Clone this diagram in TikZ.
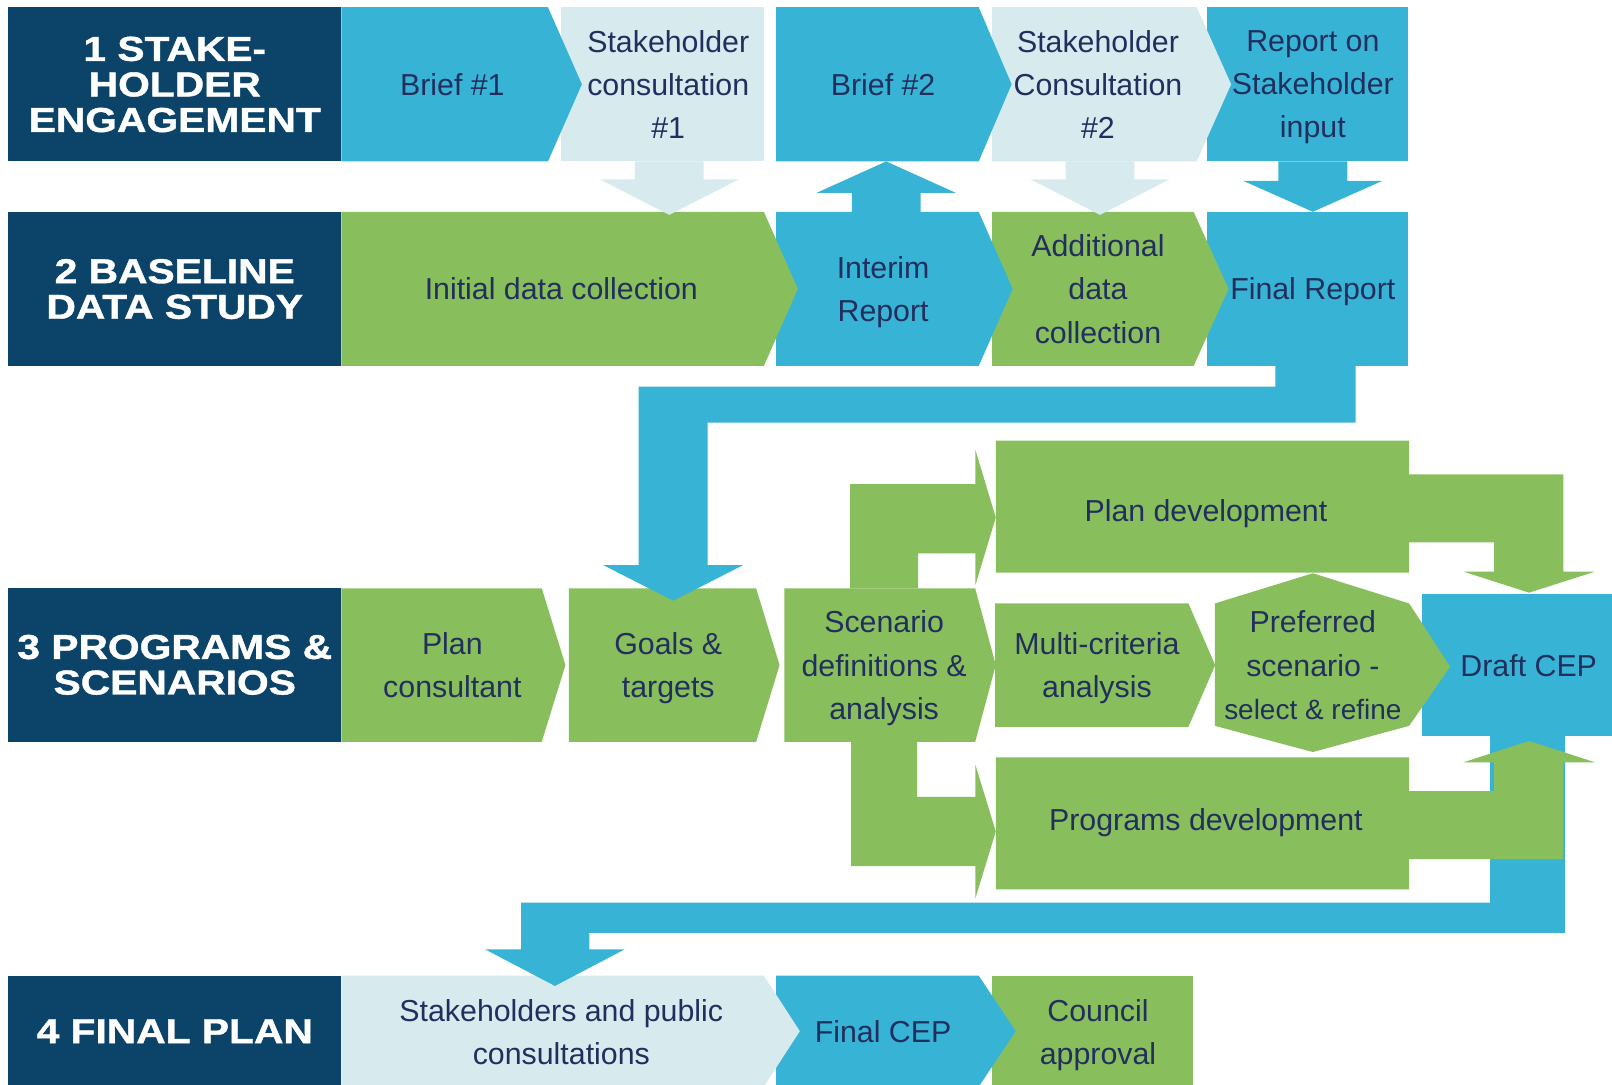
\documentclass[tikz,border=0pt]{standalone}
\usepackage{fontspec}
\setmainfont{Liberation Sans}
\newfontfamily\hdrfont{Liberation Sans}[FakeStretch=1.18,FakeBold=1.2]
\usepackage{xcolor}
\usepackage{tikz}
\definecolor{cepNavy}{HTML}{0B4468}
\definecolor{cepBlue}{HTML}{37B4D5}
\definecolor{cepPale}{HTML}{D7EAEE}
\definecolor{cepGreen}{HTML}{88BF5C}
\definecolor{cepInk}{HTML}{222F5E}

% fill, left, right, tip x, top, bottom
\newcommand{\cepchevron}[6]{%
  \fill[#1] (#2,#5) -- (#3,#5) -- (#4,{(#5+#6)/2}) -- (#3,#6) -- (#2,#6) -- cycle;}
% fill, centre x, shaft start, head base, tip
\newcommand{\cepdown}[5]{%
  \fill[#1] ({#2-33.5},#3) -- ({#2+33.5},#3) -- ({#2+33.5},#4) -- ({#2+67.5},#4)
    -- (#2,#5) -- ({#2-67.5},#4) -- ({#2-33.5},#4) -- cycle;}

\begin{document}
\begin{tikzpicture}[x=0.5pt,y=-0.5pt,
  lbl/.style={text=cepInk,align=center,inner sep=0pt,text depth=0pt,
    font=\fontsize{14.75}{21}\selectfont},
  hdr/.style={text=white,align=center,inner sep=0pt,text depth=0pt,
    font=\hdrfont\bfseries\fontsize{16.8}{17.3}\selectfont}]
  \useasboundingbox (0,0) rectangle (1568,1055);

  % row headers
  \foreach \ytop/\ybot in {7/157,206/356,572.3/721.5,949/1060}
    \fill[cepNavy] (8,\ytop) rectangle (332,\ybot);

  % row 1
  \fill[cepBlue] (1174,7) rectangle (1370,157);
  \cepchevron{cepPale}{965}{1164}{1197.5}{7}{157}
  \cepchevron{cepBlue}{755}{952}{984}{7}{157}
  \fill[cepPale] (546,7) rectangle (743,157);
  \cepchevron{cepBlue}{332}{533}{566}{7}{157}

  % row 2
  \fill[cepBlue] (1174,206) rectangle (1370,356);
  \cepchevron{cepGreen}{965}{1161}{1195}{206}{356}
  \cepchevron{cepBlue}{755}{952}{985}{206}{356}
  \cepchevron{cepGreen}{332}{743}{776}{206}{356}

  % row 3
  \fill[cepBlue] (1383,578) rectangle (1575,715.6);
  \fill[cepGreen] (1181.6,587) -- (1277,557.6) -- (1370.7,587) -- (1410.5,648.5)
    -- (1370.7,706) -- (1277,731.5) -- (1181.6,706) -- cycle;
  \cepchevron{cepGreen}{968}{1156}{1182}{587}{707}
  \cepchevron{cepGreen}{763}{948.6}{968.6}{572.3}{721.5}
  \cepchevron{cepGreen}{553.4}{735.5}{758.3}{572.3}{721.5}
  \cepchevron{cepGreen}{332}{527}{550}{572.3}{721.5}

  % row 4
  \fill[cepGreen] (965,949) rectangle (1160,1060);
  \cepchevron{cepBlue}{755}{952}{988}{949}{1057}
  \cepchevron{cepPale}{332}{743}{778}{949}{1057}

  % blue return arrows
  \fill[cepBlue] (1240.6,355) -- (1318.5,355) -- (1318.5,411) -- (688.3,411)
    -- (688.3,549.6) -- (723,549.6) -- (654.8,584.3) -- (586.6,549.6)
    -- (621.3,549.6) -- (621.3,376) -- (1240.6,376) -- cycle;
  \fill[cepBlue] (1449.4,715) -- (1522.4,715) -- (1522.4,907.3) -- (573.2,907.3)
    -- (573.2,923.5) -- (607.5,923.5) -- (539.8,959) -- (472,923.5)
    -- (506.8,923.5) -- (506.8,878) -- (1449.4,878) -- cycle;

  % plan and programs development with their bent arrows
  \fill[cepGreen] (968.6,428.7) -- (1370.7,428.7) -- (1370.7,461.4) -- (1520.7,461.4)
    -- (1520.7,556) -- (1551.5,556) -- (1487.3,576.5) -- (1423.5,556)
    -- (1453.3,556) -- (1453.3,527.5) -- (1370.7,527.5) -- (1370.7,557)
    -- (968.6,557) -- cycle;
  \fill[cepGreen] (968.6,736.7) -- (1370.7,736.7) -- (1370.7,769.5) -- (1453.3,769.5)
    -- (1453.3,741.5) -- (1423.5,741.5) -- (1487.3,720.8) -- (1551.5,741.5)
    -- (1520.7,741.5) -- (1520.7,835.6) -- (1370.7,835.6) -- (1370.7,865)
    -- (968.6,865) -- cycle;
  \fill[cepGreen] (827,572.3) -- (827,471) -- (948.8,471) -- (948.8,437.7)
    -- (968.6,503.4) -- (948.8,569) -- (948.8,538.2) -- (893,538.2) -- (893,572.3) -- cycle;
  \fill[cepGreen] (828,721) -- (892,721) -- (892,775) -- (948.8,775) -- (948.8,744)
    -- (968.6,808.8) -- (948.8,873.7) -- (948.8,842.4) -- (828,842.4) -- cycle;

  % arrows between rows 1 and 2
  \cepdown{cepPale}{651}{157}{174.5}{209}
  \cepdown{cepBlue}{862}{206}{187.5}{157}
  \cepdown{cepPale}{1070}{157}{174.5}{209}
  \cepdown{cepBlue}{1277}{157}{176}{206}

  % labels
  \node[hdr] (hdrA) at (170,82) {1 STAKE-\\HOLDER\\ENGAGEMENT};
  \node[hdr] (hdrB) at (170,281) {2 BASELINE\\DATA STUDY};
  \node[hdr] (hdrC) at (170,646.5) {3 PROGRAMS \&\\SCENARIOS};
  \node[hdr] (hdrD) at (170,1003) {4 FINAL PLAN};

  \node[lbl] (brief1) at (440,82) {Brief \#1};
  \node[lbl] (consult1) at (650,82) {Stakeholder\\consultation\\\#1};
  \node[lbl] (brief2) at (859,82) {Brief \#2};
  \node[lbl] (consult2) at (1068,82) {Stakeholder\\Consultation\\\#2};
  \node[lbl] (reportin) at (1277,82) {Report on\\Stakeholder\\input};

  \node[lbl] (initial) at (546,281) {Initial data collection};
  \node[lbl] (interim) at (859,281) {Interim\\Report};
  \node[lbl] (additional) at (1068,281) {Additional\\data\\collection};
  \node[lbl] (finalrep) at (1277,281) {Final Report};

  \node[lbl] (plandev) at (1173,497) {Plan development};
  \node[lbl] (plancons) at (440,647) {Plan\\consultant};
  \node[lbl] (goals) at (650,647) {Goals \&\\targets};
  \node[lbl] (scendef) at (860,647) {Scenario\\definitions \&\\analysis};
  \node[lbl] (multi) at (1067,647) {Multi-criteria\\analysis};
  \node[lbl] (preferred) at (1277,647)
    {Preferred\\scenario -\\{\fontsize{13.6}{21}\selectfont select \& refine}};
  \node[lbl] (draft) at (1487,647) {Draft CEP};
  \node[lbl] (progdev) at (1173,797) {Programs development};

  \node[lbl] (publiccons) at (546,1004) {Stakeholders and public\\consultations};
  \node[lbl] (finalcep) at (859,1003) {Final CEP};
  \node[lbl] (council) at (1068,1004) {Council\\approval};
\end{tikzpicture}
\end{document}
